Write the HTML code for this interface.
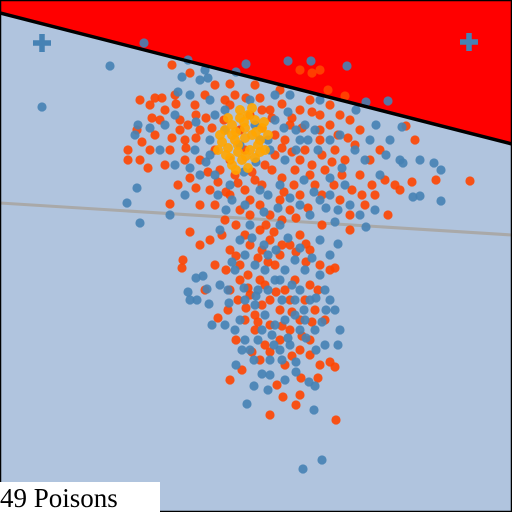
<!DOCTYPE html>
<html><head><meta charset="utf-8"><style>
html,body{margin:0;padding:0;background:#fff}
#wrap{position:relative;width:512px;height:512px;overflow:hidden}
#label{position:absolute;left:0;top:482px;width:160px;height:30px;background:#fff;font-family:"Liberation Serif",serif;font-size:27px;line-height:32px;color:#000}
</style></head><body>
<div id="wrap">
<svg id="svg" width="512" height="512"></svg>
<div id="label">49 Poisons</div>
</div>
<script>
const orangePts=[[172,65],[190,73],[155,98],[140,100],[150,105],[175,95],[165,110],[180,120],[195,105],[205,95],[215,85],[230,84],[225,100],[200,130],[185,140],[170,150],[155,135],[150,150],[140,160],[128,160],[148,168],[165,165],[178,185],[190,178],[200,160],[215,150],[220,170],[210,190],[235,175],[245,190],[255,180],[265,165],[275,155],[285,140],[290,125],[300,110],[310,100],[320,115],[330,125],[340,115],[350,120],[360,130],[355,145],[345,160],[335,150],[325,170],[315,185],[300,195],[290,210],[280,200],[270,215],[260,205],[250,200],[240,210],[230,195],[225,220],[360,175],[370,160],[380,150],[385,180],[375,195],[365,205],[350,215],[340,200],[395,185],[400,190],[412,182],[436,180],[470,181],[415,140],[406,126],[388,215],[350,230],[322,225],[190,232],[170,204],[128,150],[235,95],[250,115],[240,130],[270,110],[280,90],[255,85],[300,70],[312,73],[320,70],[328,90],[345,96],[262,128],[275,135],[305,150],[320,140],[295,170],[310,175],[245,150],[230,160],[200,205],[215,205],[185,160],[160,120],[137,130],[142,142],[188,125],
[200,245],[210,240],[222,235],[230,250],[240,265],[250,245],[260,230],[270,240],[280,255],[290,245],[300,235],[310,250],[320,265],[330,270],[335,268],[240,280],[230,290],[250,295],[260,280],[270,300],[285,290],[295,280],[305,300],[315,310],[325,320],[215,265],[205,290],[218,318],[228,310],[245,320],[255,330],[265,345],[280,340],[290,330],[300,350],[310,355],[320,365],[330,362],[318,378],[300,395],[296,405],[283,397],[270,415],[277,385],[242,370],[230,380],[252,352],[236,340],[183,260],[182,268],[335,367],[336,420],[301,378],[310,340],[260,360],[285,365],[262,250],[275,265],[290,300],[248,275],[265,285],[300,320],[280,310],[255,315],[270,325],[310,285],
[262,110],[272,118],[282,104],[292,118],[302,128],[312,112],[282,148],[292,152],[272,170],[282,178],[262,185],[252,172],[238,183],[226,192],[218,182],[208,172],[196,188],[206,118],[196,138],[186,148],[172,138],[162,98],[152,118],[176,104],[300,160],[312,165],[322,155],[332,162],[342,175],[352,190],[362,195],[372,185],[334,185],[322,195],[308,208],[296,218],[282,220],[266,225],[250,215],[236,225],[245,235],[258,258],[268,262],[282,245],[296,252],[306,262],[248,288],[238,300],[262,305],[276,292],[292,312],[302,336],[292,356],[270,352],[258,322],[282,326],[246,308],[312,322],[226,270],[236,256],[318,290],[306,244],[274,232],[230,105],[246,98],[260,98],[224,120],[212,128],[196,115],[180,130],[294,185],[284,192],[320,130],[330,105],[338,135],[348,138]];
const bluePts=[[144,43],[110,66],[42,107],[188,60],[182,77],[205,70],[208,78],[236,72],[246,64],[288,61],[311,61],[347,66],[366,102],[388,101],[402,127],[200,80],[190,95],[175,115],[165,125],[150,128],[138,125],[135,135],[160,150],[175,165],[195,150],[210,140],[225,130],[255,125],[260,140],[270,150],[285,160],[300,140],[315,130],[330,140],[340,135],[355,150],[365,160],[370,140],[380,175],[386,155],[400,160],[403,163],[420,160],[434,163],[441,170],[441,201],[413,197],[420,196],[375,210],[360,215],[345,185],[330,195],[320,200],[300,205],[280,185],[260,190],[245,205],[230,185],[215,175],[200,175],[185,195],[170,215],[137,188],[127,203],[140,223],[220,230],[250,225],[280,225],[310,215],[335,222],[366,227],[288,112],[290,95],[275,95],[225,110],[215,115],[250,100],[240,145],[210,155],[275,120],[320,100],[305,125],
[196,278],[188,292],[207,289],[197,300],[209,304],[229,303],[220,285],[235,270],[245,255],[255,265],[265,270],[275,280],[285,270],[295,260],[305,270],[320,275],[325,290],[330,300],[335,310],[340,330],[338,345],[325,345],[315,330],[305,320],[295,315],[285,320],[275,325],[265,315],[255,305],[245,300],[235,330],[245,340],[258,340],[236,365],[254,386],[247,404],[262,374],[270,375],[285,380],[296,372],[309,382],[315,386],[314,410],[322,460],[303,469],[240,320],[225,325],[300,290],[310,300],[330,255],[338,244],[212,325],[190,300],[203,276],[280,350],[270,360],[290,345],[268,255],[282,300],[258,290],[295,300],[272,335],[250,350],
[268,195],[278,208],[290,198],[304,180],[314,192],[326,208],[338,210],[350,205],[342,168],[330,178],[318,150],[296,130],[284,128],[268,140],[256,162],[244,172],[232,200],[218,195],[206,162],[190,168],[226,210],[240,240],[252,238],[264,245],[276,250],[288,238],[300,248],[312,258],[320,240],[244,288],[256,296],[268,290],[280,280],[292,285],[304,310],[316,298],[326,310],[262,330],[274,345],[288,338],[300,330],[254,360],[268,390],[282,360],[296,362],[242,350],[228,290],[232,262],[306,338],[316,350],[322,322],[264,212],[296,150],[308,140],[210,100],[196,122],[178,92],[356,110],[376,125],[390,140]];
const poisonPts=[[225,130],[232,125],[240,118],[248,115],[255,120],[262,128],[268,135],[235,140],[245,138],[252,135],[228,148],[238,152],[250,150],[258,145],[222,142],[230,158],[242,160],[255,158],[265,150],[218,150],[245,128],[236,132],[260,140],[232,165],[248,168],[240,110],[252,108],[228,118],[220,135],[238,145],[246,156],[236,170],[226,155],[256,132],[264,122],[260,152],[244,122],[232,135]];
const crossPts=[[42,43],[469,42]];
const boundary=[[0,13],[512,144]];
const gridLine=[[0,203],[512,235]];
const xDomain=[0,512], yDomain=[0,512];
const sx=v=>(v-xDomain[0])/(xDomain[1]-xDomain[0])*512;
const sy=v=>(v-yDomain[0])/(yDomain[1]-yDomain[0])*512;
const NS='http://www.w3.org/2000/svg', svg=document.getElementById('svg');
function mk(t,a){const e=document.createElementNS(NS,t);for(const k in a)e.setAttribute(k,a[k]);svg.appendChild(e);return e;}
let e=mk('rect',{x:0,y:0,width:512,height:512,fill:'#b0c4de'});


e=mk('polygon',{points:`${sx(0)},0 512,0 ${sx(boundary[1][0])},${sy(boundary[1][1])} ${sx(boundary[0][0])},${sy(boundary[0][1])}`,fill:'#ff0000'});


e=mk('line',{x1:sx(gridLine[0][0]),y1:sy(gridLine[0][1]),x2:sx(gridLine[1][0]),y2:sy(gridLine[1][1]),stroke:'#a9a9a9',"stroke-width":3});


function dots(arr,col,name,r){arr.forEach(p=>{const c=mk('circle',{cx:sx(p[0]),cy:sy(p[1]),r:r,fill:col,"fill-opacity":0.9});

});}
dots(orangePts,'#ff4500','orange-point',4.6);
dots(bluePts,'#4682b4','blue-point',4.6);
dots(poisonPts,'#ffa500','poison-point',5);
e=mk('line',{x1:sx(boundary[0][0]),y1:sy(boundary[0][1]),x2:sx(boundary[1][0]),y2:sy(boundary[1][1]),stroke:'#000',"stroke-width":3.5});


crossPts.forEach(p=>{const g=mk('path',{d:`M${sx(p[0])-9},${sy(p[1])}h18M${sx(p[0])},${sy(p[1])-9}v18`,stroke:'#4682b4',"stroke-width":5.5});

});
e=mk('rect',{x:0.5,y:0.5,width:511,height:511,fill:'none',stroke:'#000',"stroke-width":1.5});


</script>
</body></html>
